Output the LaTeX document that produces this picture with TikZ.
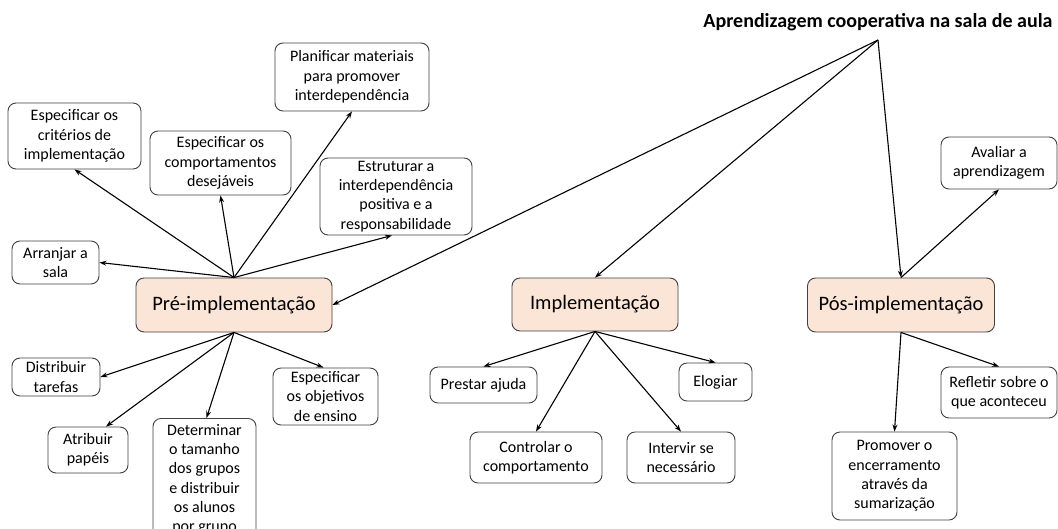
\documentclass[tikz,border=0pt]{standalone}
\usepackage{fontspec}
\setmainfont{Carlito}
\usetikzlibrary{arrows.meta}
\definecolor{boxline}{HTML}{404040}
\definecolor{peach}{HTML}{FBE5D6}
\tikzset{
  box/.style={draw=boxline, line width=0.9pt, rounded corners=8pt, align=center,
    inner sep=0pt, font=\fontsize{16}{19.3}\selectfont, fill=white},
  mainbox/.style={box, fill=peach, font=\fontsize{20.5}{24}\selectfont},
  arr/.style={-{Stealth[length=7pt,width=5pt]}, line width=1.1pt, black},
}
\begin{document}
\begin{tikzpicture}[x=1pt,y=-1pt]
\useasboundingbox (0,0) rectangle (1058,528);
\fill[white] (0,0) rectangle (1058,528);
% title
\node[font=\fontsize{20}{24}\bfseries\selectfont, anchor=base] (title) at (878,27.5) {Aprendizagem cooperativa na sala de aula};
\coordinate (apex) at (878,40);
% pre-implementation group
\node[box, minimum width=154pt, minimum height=68pt] (plan) at (352,77) {Planificar materiais\\para promover\\interdependência};
\node[box, minimum width=133pt, minimum height=66pt] (crit) at (74.5,136) {Especificar os\\critérios de\\implementação};
\node[box, minimum width=141pt, minimum height=64pt] (comp) at (220.5,163) {Especificar os\\comportamentos\\desejáveis};
\node[box, minimum width=152pt, minimum height=77pt] (estr) at (396,196.5) {Estruturar a\\interdependência\\positiva e a\\responsabilidade};
\node[box, minimum width=87pt, minimum height=43pt] (arr) at (55.5,262.5) {Arranjar a\\sala};
\node[mainbox, minimum width=196pt, minimum height=54pt] (pre) at (234,305) {Pré-implementação};
\node[box, minimum width=88pt, minimum height=38pt] (dist) at (56,377) {Distribuir\\tarefas};
\node[box, minimum width=80pt, minimum height=46pt] (atr) at (88,450) {Atribuir\\papéis};
\node[box, minimum width=103pt, minimum height=122pt, anchor=north] (det) at (204.5,418) {Determinar\\o tamanho\\dos grupos\\e distribuir\\os alunos\\por grupo};
\node[box, minimum width=105pt, minimum height=57pt] (obj) at (325.5,396.5) {Especificar\\os objetivos\\de ensino};
% implementation group
\node[mainbox, minimum width=166pt, minimum height=53pt] (impl) at (595,304.5) {Implementação};
\node[box, minimum width=107pt, minimum height=36pt] (prest) at (483.5,385) {Prestar ajuda};
\node[box, minimum width=73pt, minimum height=38pt] (elog) at (715.5,382) {Elogiar};
\node[box, minimum width=132pt, minimum height=51pt] (ctrl) at (536,457.5) {Controlar o\\comportamento};
\node[box, minimum width=108pt, minimum height=51pt] (interv) at (681,457.5) {Intervir se\\necessário};
% post-implementation group
\node[mainbox, minimum width=187pt, minimum height=54pt] (pos) at (901,305) {Pós-implementação};
\node[box, minimum width=116pt, minimum height=52pt] (aval) at (999,163) {Avaliar a\\aprendizagem};
\node[box, minimum width=116pt, minimum height=51pt] (refl) at (999,392.5) {Refletir sobre o\\que aconteceu};
\node[box, minimum width=125pt, minimum height=88pt] (prom) at (894.5,476) {Promover o\\encerramento\\através da\\sumarização};
% connectors from the title
\draw[arr] (apex) -- (pre.east);
\draw[arr] (apex) -- (impl.north);
\draw[arr] (apex) -- (pos.north);
% pre-implementation connectors
\draw[arr] (pre.north) -- (crit.south);
\draw[arr] (pre.north) -- (comp.south);
\draw[arr] (pre.north) -- (plan.south);
\draw[arr] (pre.north) -- ([xshift=-4pt]estr.south);
\draw[arr] (pre.north) -- (arr.east);
\draw[arr] (pre.south) -- (dist.east);
\draw[arr] (pre.south) -- ([xshift=18pt]atr.north);
\draw[arr] (pre.south) -- ([xshift=2pt]det.north);
\draw[arr] (pre.south) -- ([xshift=-2pt]obj.north);
% implementation connectors
\draw[arr] (impl.south) -- (prest.north);
\draw[arr] (impl.south) -- (ctrl.north);
\draw[arr] (impl.south) -- (interv.north);
\draw[arr] (impl.south) -- (elog.north);
% post-implementation connectors
\draw[arr] (pos.north) -- (aval.south);
\draw[arr] (pos.south) -- (prom.north);
\draw[arr] (pos.south) -- (refl.north);
\end{tikzpicture}
\end{document}
